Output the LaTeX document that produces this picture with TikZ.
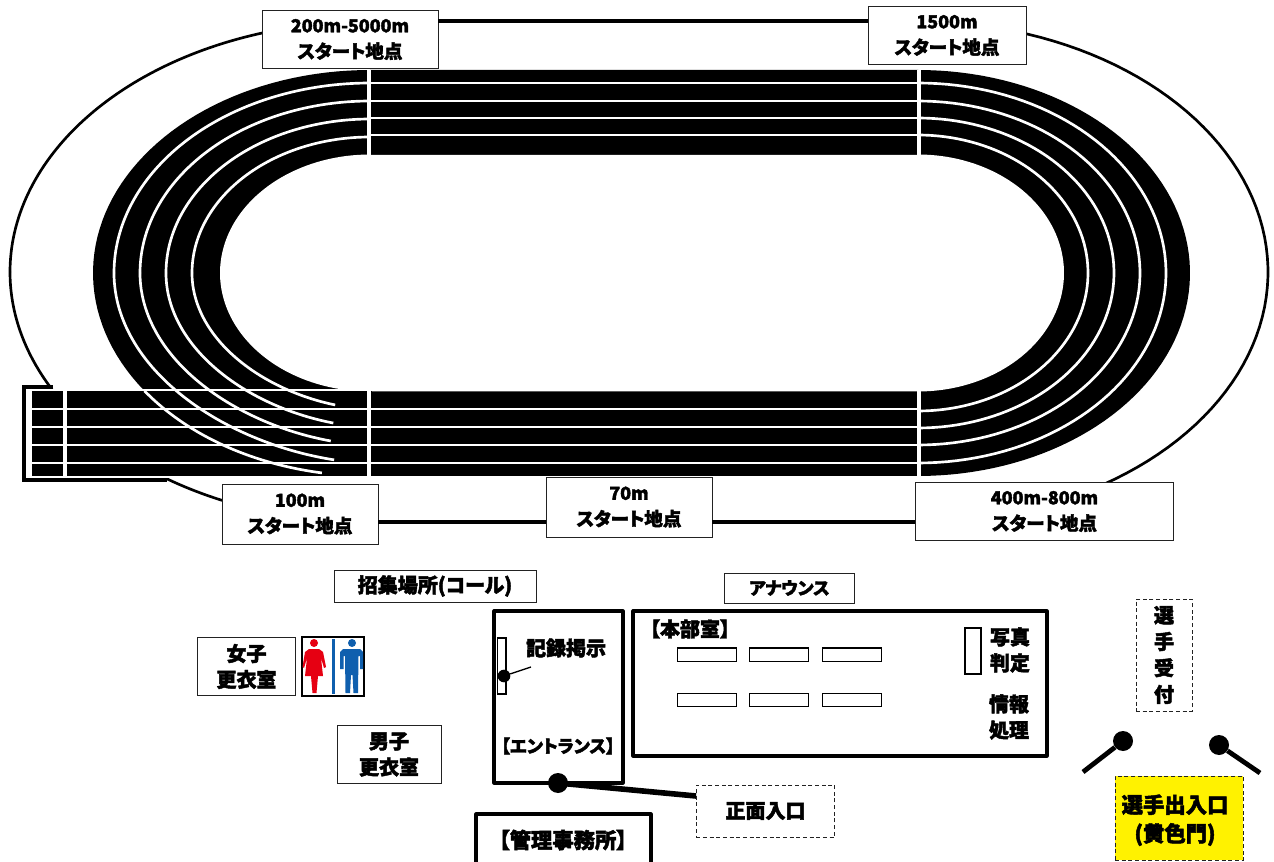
\documentclass[tikz,border=0pt]{standalone}
\usepackage{fontspec}
\setmainfont{Noto Sans CJK JP}[RawFeature={+palt},BoldFeatures={FakeBold=2.2}]
\usetikzlibrary{calc}
\definecolor{wcred}{HTML}{E60012}
\definecolor{wcblue}{HTML}{0F5FAE}
\definecolor{edge}{HTML}{222222}
\def\earc#1#2#3#4#5#6{plot[domain=#5:#6,samples=80] ({#1+#3*cos(\x)},{#2+#4*sin(\x)})}
\def\learc#1#2#3#4#5#6{-- plot[domain=#5:#6,samples=80] ({#1+#3*cos(\x)},{#2+#4*sin(\x)})}
\def\parc#1#2#3#4#5{plot[domain=0:#5,samples=60] ({#1-#3*pow(cos(\x),1.15)},{#2+#4*sin(\x)})}
\newcommand{\ltn}[1]{{\fontsize{13.4}{19.5}\selectfont #1}}
\newcommand{\std}[1]{{\fontsize{13.9}{19.5}\selectfont #1}}
\tikzset{
  px/.style={x=0.75pt,y=-0.75pt},
  lbl/.style={draw=edge,fill=white,line width=0.7pt,inner sep=0pt,align=center,font=\bfseries\fontsize{15}{19.5}\selectfont},
  dashbox/.style={lbl,densely dashed,line width=0.55pt},
  room/.style={draw=black,line width=2.4pt,line join=round},
  desk/.style={draw=black,fill=white,line width=1pt},
  txt/.style={inner sep=0pt,align=center,font=\bfseries\fontsize{15}{19.5}\selectfont},
  ovalline/.style={draw=black,line width=2pt},
  lane/.style={draw=white,line width=2pt},
  dot/.style={circle,fill=black,inner sep=0pt},
  pole/.style={draw=black,line width=3.6pt},
}
\begin{document}
\begin{tikzpicture}[px]
\useasboundingbox (0,0) rectangle (1274,862);
% outer oval
\draw[ovalline] \earc{918}{272}{350}{250.5}{-90}{90};
\draw[ovalline] \earc{370}{272}{360}{250.5}{-90}{-180};
\draw[ovalline] \earc{370}{272}{360}{250.5}{180}{152};
\draw[ovalline] \earc{370}{272}{360}{250.5}{128}{110};
\draw[line width=3pt] (53,387) -- (24,387) -- (24,480) -- (167,480);
% track body
\fill[black] (370,70) -- (918,70) \learc{918}{273}{272}{203}{-90}{90} -- (370,476) \learc{370}{273}{277}{203}{90}{270} -- cycle;
\fill[white] (370,155) -- (918,155) \learc{918}{273}{146}{118.5}{-90}{90} -- (370,391.5) \learc{370}{273}{150}{118.5}{90}{270} -- cycle;
\fill[black] (30,390) rectangle (372,478);
% lanes, right and top
\foreach \a/\b in {248/190,222/172,196/155,170/138}{
  \draw[lane] \earc{918}{273}{\a}{\b}{-90}{90};
}
\foreach \y in {83,101,118,135,409,427,445,463}{
  \draw[lane] (370,\y) -- (918,\y);
}
% lanes, left
\foreach \a/\b/\e in {256/190/79.6,230/172/77.6,204/154/77,178/136/76}{
  \draw[lane] \earc{370}{273}{\a}{\b}{-90}{-180};
  \draw[lane] \parc{370}{273}{\a}{\b}{\e};
}
\draw[lane] \earc{370}{273}{277}{203}{144.5}{100};
% straight lanes at the left
\foreach \y in {390,409,427,445,463,477}{
  \draw[lane] (30,\y) -- (372,\y);
}
\draw[lane] (31,389) -- (31,478);
\draw[lane,line width=3.2pt] (65,389) -- (65,478);
\draw[lane,line width=3.4pt] (369,70) -- (369,155);
\draw[lane,line width=3.4pt] (369,390) -- (369,477);
\draw[lane,line width=3.4pt] (919,70) -- (919,155);
\draw[lane,line width=3.4pt] (919,391) -- (919,477);
% start labels
\node[lbl,minimum width=132pt,minimum height=44pt] (a) at (350,39.5) {\ltn{200m-5000m}\\\std{スタート地点}};
\node[lbl,minimum width=118.5pt,minimum height=44pt] (b) at (947,35.5) {\ltn{1500m}\\\std{スタート地点}};
\node[lbl,minimum width=117pt,minimum height=45pt] (c) at (300,514) {\ltn{100m}\\\std{スタート地点}};
\node[lbl,minimum width=124.5pt,minimum height=45pt] (d) at (629,507) {\ltn{70m}\\\std{スタート地点}};
\node[lbl,minimum width=194pt,minimum height=44pt] (e) at (1044.5,511.5) {\ltn{400m-800m}\\\std{スタート地点}};
\coordinate (ot) at (0,21);
\coordinate (ob) at (0,522);
\draw[line width=2.3pt] (a.east|-ot) -- (b.west|-ot);
\draw[line width=2.3pt] (c.east|-ob) -- (d.west|-ob);
\draw[line width=2.3pt] (d.east|-ob) -- (e.west|-ob);
% lower labels
\node[lbl,minimum width=151.5pt,minimum height=24pt] (call) at (435,586) {招集場所(コール)};
\node[lbl,minimum width=98pt,minimum height=22.5pt,font=\bfseries\fontsize{13}{19.5}\selectfont] (ann) at (789.5,588) {アナウンス};
\node[lbl,minimum width=74pt,minimum height=44pt] (w) at (246.5,666.5) {女子\\更衣室};
\node[lbl,minimum width=78pt,minimum height=44pt] (m) at (389,754.5) {男子\\更衣室};
% restroom sign
\draw[draw=black,line width=1.1pt,fill=white] (302,637) rectangle (364,696);
\fill[wcred] (314,643) circle[radius=4];
\fill[wcred] (309,649) -- (319,649) -- (323,652) -- (326,667) -- (324,668) -- (321,658) -- (323,676) -- (318,676) -- (316.5,693) -- (312.5,693) -- (311,676) -- (305,676) -- (307,658) -- (304,668) -- (302.5,667) -- (305,652) -- cycle;
\fill[wcblue] (331.5,639) rectangle (334.5,694);
\fill[wcblue] (352,643) circle[radius=4];
\fill[wcblue] (343,649) -- (360,649) -- (363,652) -- (363,669) -- (360,669) -- (360,656) -- (358.5,656) -- (358,693) -- (353.5,693) -- (352.5,675) -- (351,675) -- (350,693) -- (345.5,693) -- (345,656) -- (343.5,656) -- (343.5,669) -- (340,669) -- (340,652) -- cycle;
% entrance
\node[room,minimum width=96.75pt,minimum height=129pt,inner sep=0pt] (ent) at (558.5,697) {};
\node[desk,minimum width=6.5pt,minimum height=42pt,inner sep=0pt] (board) at (501.5,666) {};
\node[dot,minimum size=9.5pt] (bdot) at (504,676) {};
\coordinate (btip) at (531,667);
\draw[line width=1pt] (bdot) -- (btip);
\node[txt] (rec) at (566,648) {記録掲示};
\node[txt,font=\bfseries\fontsize{13.2}{19.5}\selectfont] (enttxt) at (558,746) {【エントランス】};
\node[dashbox,minimum width=104pt,minimum height=39pt] (front) at (765.5,811) {正面入口};
\node[dot,minimum size=15pt] (fdot) at (558,783) {};
\coordinate (fe) at (696,796);
\draw[line width=4.2pt] (fdot.center) -- (fe);
% office
\draw[room] (476,880) |- (651,814) -- (651,880);
\node[txt,font=\bfseries\fontsize{16}{19.5}\selectfont] (off) at (563,840) {【管理事務所】};
% headquarters
\node[room,minimum width=310.5pt,minimum height=108.75pt,inner sep=0pt] (hq) at (840,683.5) {};
\node[txt] (hqt) at (690,629) {【本部室】};
\foreach \n/\x/\y in {d1/707/654.5,d2/779/654.5,d3/852/654.5,d4/707/700,d5/779/700,d6/852/700}{
  \node[desk,minimum width=44pt,minimum height=10pt,inner sep=0pt] (\n) at (\x,\y) {};
}
\node[desk,minimum width=12pt,minimum height=34.5pt,inner sep=0pt] (bar) at (973,651) {};
\node[txt] (ph) at (1010,650) {写真\\判定};
\node[txt] (inf) at (1009,717) {情報\\処理};
% competitor entrance
\node[dashbox,minimum width=42pt,minimum height=84pt,font=\bfseries\fontsize{15}{19.8}\selectfont] (recv) at (1164,655) {選\\手\\受\\付};
\node[dashbox,fill=yellow,minimum width=96pt,minimum height=63pt,font=\bfseries\fontsize{16}{21.5}\selectfont,text depth=0pt] (gate) at (1179,818) {選手出入口\hspace*{6pt}\\(黄色門)\hspace*{6pt}};
\node[dot,minimum size=15pt] (g1) at (1123,741) {};
\node[dot,minimum size=15pt] (g2) at (1219,745) {};
\coordinate (g1e) at (1083,772);
\coordinate (g2e) at (1260,773);
\draw[pole] (g1) -- (g1e);
\draw[pole] (g2) -- (g2e);
\end{tikzpicture}
\end{document}
